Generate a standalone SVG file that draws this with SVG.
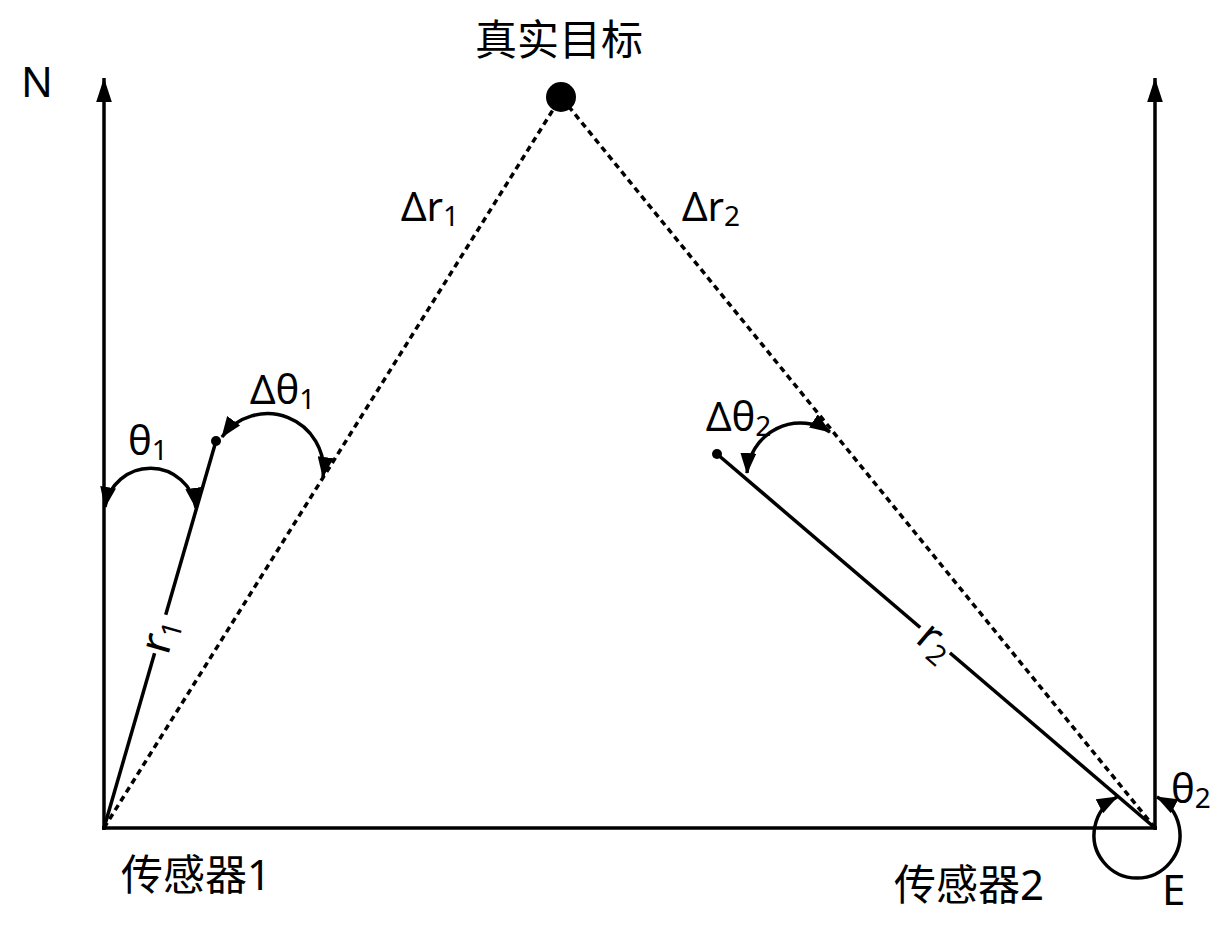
<svg xmlns="http://www.w3.org/2000/svg" width="1227" height="936" viewBox="0 0 1227 936">
<style>
.t{font-family:"Noto Sans","Noto Sans CJK SC",sans-serif;fill:#000}
.sub{font-size:28px}
.ln{stroke:#000;fill:none;stroke-width:3.5}
.dot{stroke:#000;fill:none;stroke-width:3.5;stroke-dasharray:6 4.5}
.arc{stroke:#000;fill:none;stroke-width:3.5;marker-start:url(#ah);marker-end:url(#ah)}
</style>
<defs>
<marker id="ah" markerUnits="userSpaceOnUse" markerWidth="21" markerHeight="16" refX="20" refY="8" orient="auto-start-reverse" viewBox="0 0 21 16">
<path d="M0,0 L21,8 L0,16 Z" fill="#000"/>
</marker>
<marker id="nh" markerUnits="userSpaceOnUse" markerWidth="24" markerHeight="16" refX="23" refY="7.5" orient="auto" viewBox="0 0 23 15">
<path d="M0,0 L23,7.5 L0,15 Z" fill="#000"/>
</marker>
</defs>
<rect width="1227" height="936" fill="#fff"/>
<g id="connectors">
<line class="ln" x1="104" y1="830" x2="104" y2="78" marker-end="url(#nh)" stroke-width="4"/>
<line class="ln" x1="1155" y1="830" x2="1155" y2="78" marker-end="url(#nh)" stroke-width="4"/>
<line class="ln" x1="102" y1="828" x2="1157" y2="828" stroke-width="4"/>
<line class="dot" x1="104" y1="828" x2="561" y2="97"/>
<line class="dot" x1="1155" y1="828" x2="561" y2="97"/>
<line class="ln" x1="104" y1="828" x2="216" y2="441" stroke-width="3"/>
<line class="ln" x1="1155" y1="828" x2="717" y2="454" stroke-width="3"/>
<path class="arc" d="M105,507 A46,46 0 0 1 196,508"/>
<path class="arc" d="M222,437 A56,56 0 0 1 323,477"/>
<path class="arc" d="M830,432 A53.5,53.5 0 0 0 747,473"/>
<path class="arc" d="M1157,797 A43,43 0 1 1 1117,797"/>
</g>
<g id="target">
<circle cx="561" cy="97" r="15" fill="#000"/>
<text class="t" x="559" y="55" font-size="42" text-anchor="middle">真实目标</text>
</g>
<g id="north">
<text class="t" x="21" y="97" font-size="42">N</text>
</g>
<g id="east">
<text class="t" x="1162" y="905" font-size="42">E</text>
</g>
<g id="sensor1">
<text class="t" x="121" y="890" font-size="42">传感器1</text>
</g>
<g id="sensor2">
<text class="t" x="894" y="900" font-size="42">传感器2</text>
</g>
<g id="meas1">
<circle cx="216" cy="441" r="5" fill="#000"/>
</g>
<g id="meas2">
<circle cx="717" cy="454" r="5" fill="#000"/>
</g>
<g id="labels">
<text class="t" x="401" y="221" font-size="40">Δr<tspan class="sub" dy="5">1</tspan></text>
<text class="t" x="682" y="221" font-size="40">Δr<tspan class="sub" dy="5">2</tspan></text>
<text class="t" x="128" y="455" font-size="40">θ<tspan class="sub" dy="5">1</tspan></text>
<text class="t" x="250" y="404" font-size="40">Δθ<tspan class="sub" dy="5">1</tspan></text>
<text class="t" x="706" y="431" font-size="40">Δθ<tspan class="sub" dy="5">2</tspan></text>
<text class="t" x="1171" y="803" font-size="40">θ<tspan class="sub" dy="5">2</tspan></text>
<g transform="translate(168,656) rotate(-74)">
<rect x="-1" y="-22" width="40" height="16" fill="#fff"/>
<text class="t" x="0" y="0" font-size="44">r<tspan class="sub" dy="6">1</tspan></text>
</g>
<g transform="translate(914,641) rotate(40.5)">
<rect x="-4" y="-22" width="39" height="16" fill="#fff"/>
<text class="t" x="0" y="0" font-size="44">r<tspan class="sub" dy="6">2</tspan></text>
</g>
</g>
</svg>
